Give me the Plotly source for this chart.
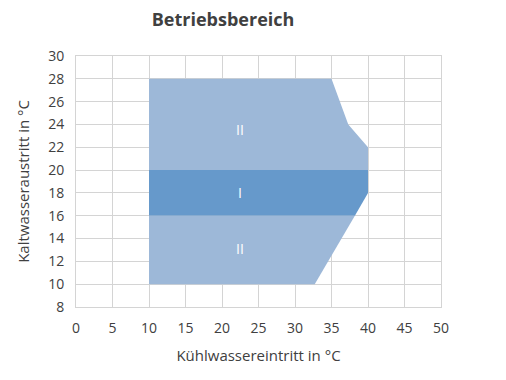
import plotly.graph_objects as go

# Region polygons (Kühlwassereintritt x, Kaltwasseraustritt y)
upper_x = [10, 10, 35, 37.3, 40, 40, 10]
upper_y = [20, 28, 28, 24, 22, 20, 20]
band_x = [10, 10, 40, 40, 38.2, 10]
band_y = [16, 20, 20, 18, 16, 16]
lower_x = [10, 10, 38.2, 32.7, 10]
lower_y = [10, 16, 16, 10, 10]

label_text = ["II", "I", "II"]
label_x = [22.5, 22.5, 22.5]
label_y = [23.6, 18, 13.1]

light = "#9db8d8"
dark = "#6699cb"

fig = go.Figure()
for xs, ys, col in [(upper_x, upper_y, light), (band_x, band_y, dark), (lower_x, lower_y, light)]:
    fig.add_trace(go.Scatter(x=xs, y=ys, fill="toself", fillcolor=col, mode="lines",
                             line=dict(width=0, color=col), hoverinfo="skip", showlegend=False))

for t, x, y in zip(label_text, label_x, label_y):
    fig.add_annotation(x=x, y=y, text=t, showarrow=False,
                       font=dict(color="white", size=14, family="Open Sans"))

fig.update_layout(
    width=506, height=380,
    margin=dict(l=68, r=73, t=48, b=81),
    plot_bgcolor="white", paper_bgcolor="white",
    font=dict(family="Open Sans", color="#404040", size=14),
    title=dict(text="<b>Betriebsbereich</b>", x=0.425, xanchor="center", y=0.968, yanchor="middle",
               font=dict(size=18, color="#404040")),
    showlegend=False,
)
fig.update_xaxes(range=[0, 50], dtick=5, tick0=0, showgrid=True, gridcolor="#d4d4d4", gridwidth=1,
                 showline=True, linecolor="#d4d4d4", mirror=True, zeroline=False, ticks="",
                 ticklabelstandoff=8,
                 title=dict(text="Kühlwassereintritt in °C", font=dict(size=15), standoff=14),
                 tickfont=dict(size=14))
fig.update_yaxes(range=[8, 30], dtick=2, tick0=8, showgrid=True, gridcolor="#d4d4d4", gridwidth=1,
                 showline=True, linecolor="#d4d4d4", mirror=True, zeroline=False, ticks="",
                 ticklabelstandoff=8,
                 title=dict(text="Kaltwasseraustritt in °C", font=dict(size=15), standoff=14),
                 tickfont=dict(size=14))

fig.write_html("out.html")
